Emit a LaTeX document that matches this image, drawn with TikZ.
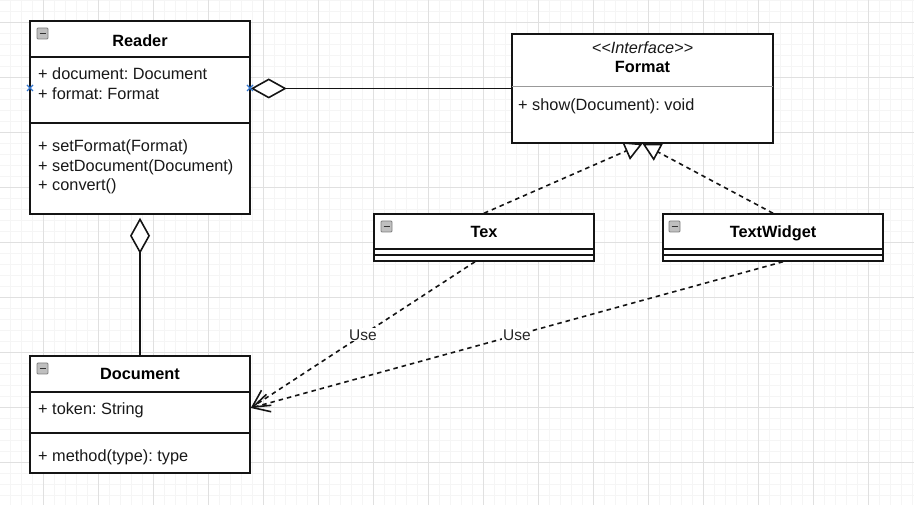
\documentclass[tikz,border=0pt]{standalone}
\usepackage{fontspec}
\setmainfont{Liberation Sans}
\usetikzlibrary{arrows.meta}
\definecolor{bordercol}{HTML}{141414}
\definecolor{markblue}{HTML}{2F74D0}
\definecolor{gridmajor}{HTML}{E0E0E0}
\definecolor{gridminor}{HTML}{F5F5F5}
\tikzset{
  minorgrid/.style={draw=gridminor, line width=0.7pt},
  majorgrid/.style={draw=gridmajor, line width=0.9pt},
  umlbox/.style={draw=bordercol, line width=1.5pt, fill=white, inner sep=0pt},
  sepline/.style={draw=bordercol, line width=1.5pt},
  graysep/.style={draw=black!40, line width=1pt},
  classtitle/.style={font=\bfseries, inner sep=0pt, anchor=base, text=black},
  member/.style={inner sep=0pt, anchor=base west, text=black!90},
  assocline/.style={draw=bordercol, line width=1.6pt},
  aggline/.style={assocline, {Diamond[length=36pt,width=20pt,fill=white]}-},
  realline/.style={draw=bordercol, line width=1.6pt, dash pattern=on 4.5pt off 4pt, -{Triangle[length=18pt,width=19pt,fill=white]}},
  useline/.style={draw=bordercol, line width=1.6pt, dash pattern=on 4.5pt off 4pt, -{Straight Barb[length=17pt,width=18pt]}},
  uselabel/.style={fill=white, inner sep=1pt, text=black!85, font=\fontsize{15.5}{18}\selectfont},
  bluex/.style={draw=markblue, line width=1.3pt},
  iconbox/.style={draw=black!50, fill=black!25, line width=0.9pt, rounded corners=1pt},
  iconbar/.style={draw=black!80, line width=1.5pt}
}
\newcommand\umlminusicon[2]{%
  \draw[iconbox] (#1,#2) rectangle ++(11,11);
  \draw[iconbar] (#1+2.5,#2+5.5) -- ++(6,0);
}
\newcommand\bluemark[2]{%
  \draw[bluex] (#1-3,#2-3) -- (#1+3,#2+3);
  \draw[bluex] (#1-3,#2+3) -- (#1+3,#2-3);
}
\begin{document}
\fontsize{16.3}{19.6}\selectfont\frenchspacing
\begin{tikzpicture}[x=1pt,y=-1pt]
  \useasboundingbox (0,0) rectangle (914,505);
  \fill[white] (0,0) rectangle (914,505);
  % grid
  \foreach \gx in {10,21,...,912} \draw[minorgrid] (\gx,0) -- (\gx,505);
  \foreach \gy in {0,11,...,505} \draw[minorgrid] (0,\gy) -- (914,\gy);
  \foreach \gx in {43,98,...,912} \draw[majorgrid] (\gx,0) -- (\gx,505);
  \foreach \gy in {22,77,...,505} \draw[majorgrid] (0,\gy) -- (914,\gy);

  % boxes
  \node[umlbox, minimum width=220pt, minimum height=193pt] (reader) at (140,117.5) {};
  \node[umlbox, minimum width=261pt, minimum height=109pt] (format) at (642.5,88.5) {};
  \node[umlbox, minimum width=220pt, minimum height=47pt] (tex) at (484,237.5) {};
  \node[umlbox, minimum width=220pt, minimum height=47pt] (textwidget) at (773,237.5) {};
  \node[umlbox, minimum width=220pt, minimum height=117pt] (document) at (140,414.5) {};

  % compartments
  \draw[sepline] (30,57) -- (250,57);
  \draw[sepline] (30,123) -- (250,123);
  \draw[graysep] (512,87) -- (773,87);
  \draw[sepline] (374,249) -- (594,249);
  \draw[sepline] (374,255) -- (594,255);
  \draw[sepline] (663,249) -- (883,249);
  \draw[sepline] (663,255) -- (883,255);
  \draw[sepline] (30,392) -- (250,392);
  \draw[sepline] (30,433) -- (250,433);

  % collapse icons
  \umlminusicon{37}{28}
  \umlminusicon{381}{221}
  \umlminusicon{669}{221}
  \umlminusicon{37}{363}

  % connectors
  \draw[aggline] (reader.east |- format.west) -- (format.west);
  \draw[aggline, shorten <=3pt] (reader.south) -- (document.north);
  \draw[realline] (tex.north) -- (format.south);
  \draw[realline] (textwidget.north) -- (format.south);
  \draw[useline] ([xshift=-9pt]tex.south) -- node[uselabel] (use1) {Use} ([yshift=6.5pt]document.east);
  \draw[useline] ([xshift=10pt]textwidget.south) -- node[uselabel] (use2) {Use} ([yshift=6.5pt]document.east);

  \bluemark{30}{88}
  \bluemark{250}{88}

  % texts
  \node[classtitle] (readerT) at (140,47) {Reader};
  \node[member] (r1) at (38,80) {+ document: Document};
  \node[member] (r2) at (38,100) {+ format: Format};
  \node[member] (r3) at (38,152) {+ setFormat(Format)};
  \node[member] (r4) at (38,172) {+ setDocument(Document)};
  \node[member] (r5) at (38,191) {+ convert()};

  \node[inner sep=0pt, anchor=base, font=\itshape, text=black!90] (formatS) at (642.5,54) {<\kern0pt<Interface>\kern0pt>};
  \node[classtitle] (formatT) at (642.5,73) {Format};
  \node[member] (f1) at (518,111) {+ show(Document): void};

  \node[classtitle] (texT) at (484,238) {Tex};
  \node[classtitle] (twT) at (773,238) {TextWidget};

  \node[classtitle] (docT) at (140,380) {Document};
  \node[member] (d1) at (38,414) {+ token: String};
  \node[member] (d2) at (38,461) {+ method(type): type};
\end{tikzpicture}
\end{document}
